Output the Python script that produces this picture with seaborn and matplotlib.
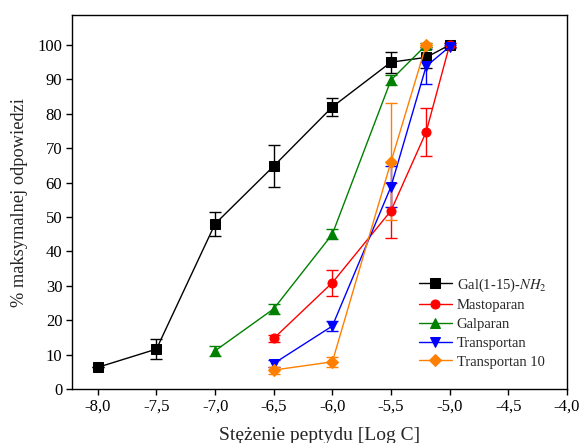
import numpy as np
import pandas as pd
import matplotlib
matplotlib.use('Agg')
import matplotlib.pyplot as plt
import seaborn as sns

# data
gal_x = [-8.0, -7.5, -7.0, -6.5, -6.0, -5.5, -5.2, -5.0]
gal_y = [6.3, 11.6, 48.0, 64.8, 82.0, 95.0, 96.4, 100.0]
gal_err = [0, 3.0, 3.5, 6.0, 2.7, 3.0, 3.0, 0.5]

masto_x = [-6.5, -6.0, -5.5, -5.2, -5.0]
masto_y = [14.7, 30.9, 51.8, 74.7, 100.0]
masto_err = [1.0, 3.8, 8.0, 7.0, 0.5]

galp_x = [-7.0, -6.5, -6.0, -5.5, -5.2]
galp_y = [11.1, 23.3, 45.0, 89.8, 100.0]
galp_err = [1.5, 1.5, 1.5, 1.5, 0.5]

trans_x = [-6.5, -6.0, -5.5, -5.2, -5.0]
trans_y = [7.4, 18.3, 58.8, 93.8, 99.5]
trans_err = [1.0, 1.5, 6.0, 5.0, 0.5]

tp10_x = [-6.5, -6.0, -5.5, -5.2]
tp10_y = [5.5, 7.9, 66.0, 100.0]
tp10_err = [1.0, 1.5, 17.0, 0.7]

series = [
    ('Gal(1-15)-$\\mathit{NH}_2$', gal_x, gal_y, gal_err, 'black', 's'),
    ('Mastoparan', masto_x, masto_y, masto_err, 'red', 'o'),
    ('Galparan', galp_x, galp_y, galp_err, 'green', '^'),
    ('Transportan', trans_x, trans_y, trans_err, 'blue', 'v'),
    ('Transportan 10', tp10_x, tp10_y, tp10_err, '#ff7f00', 'D'),
]

sns.set_style('ticks')
plt.rcParams['font.family'] = ['Liberation Serif', 'DejaVu Serif']
plt.rcParams['mathtext.fontset'] = 'stix'

fig = plt.figure(figsize=(5.79, 4.43), dpi=100)
ax = fig.add_axes([0.1244, 0.1219, 0.979 - 0.1244, 0.966 - 0.1219])

for name, x, y, err, col, mk in series:
    df = pd.DataFrame({'x': x, 'y': y})
    ms = 6.5 if mk in ('s', 'o') else 7.5
    if mk == 'D':
        ms = 6
    ax.errorbar(x, y, yerr=err, fmt='none', ecolor=col, elinewidth=1,
                capsize=4, capthick=1, zorder=2)
    sns.lineplot(data=df, x='x', y='y', ax=ax, color=col, marker=mk,
                 markersize=ms, markeredgecolor=col, linewidth=1,
                 label=name, zorder=3)

ax.set_xlim(-8.22, -4.0)
ax.set_ylim(0, 108.7)
xt = np.arange(-8.0, -3.99, 0.5)
ax.set_xticks(xt)
ax.set_xticklabels([('%.1f' % v).replace('.', ',') for v in xt], fontsize=12)
ax.set_yticks(range(0, 101, 10))
ax.set_yticklabels([str(v) for v in range(0, 101, 10)], fontsize=12)
ax.tick_params(direction='out', length=4, width=1, colors='black', pad=3)
for s in ax.spines.values():
    s.set_color('black')
    s.set_linewidth(1)

ax.set_xlabel('Stężenie peptydu [Log C]', fontsize=14, labelpad=9)
ax.set_ylabel('% maksymalnej odpowiedzi', fontsize=13.2, labelpad=7)

leg = ax.legend(loc='lower right', frameon=False, fontsize=10.5,
                handlelength=2.3, labelspacing=0.38, borderaxespad=1.0,
                handletextpad=0.3)

fig.savefig('out.png', dpi=100)
